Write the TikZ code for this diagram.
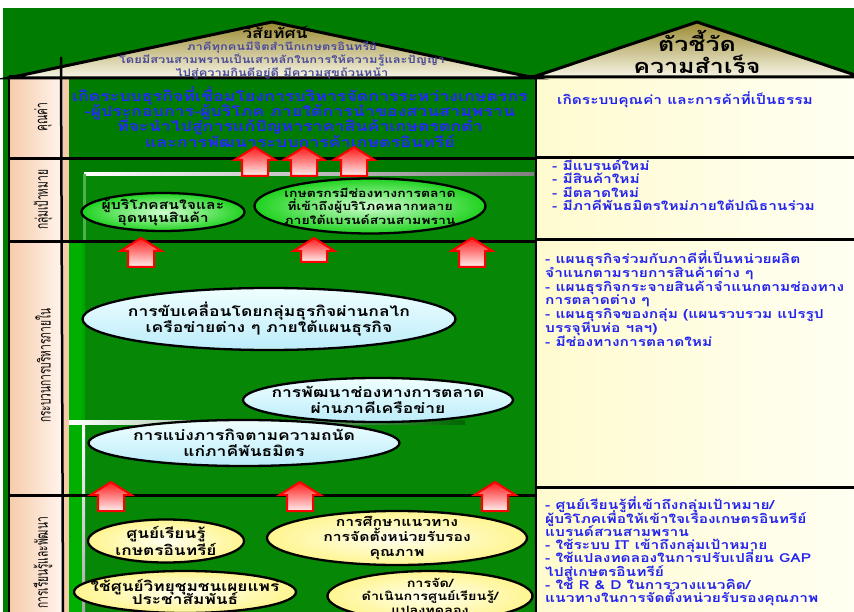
\documentclass[tikz,border=0pt]{standalone}
\usepackage{fontspec}
\newfontfamily\thai[Script=Thai,FakeStretch=1.25]{Loma}
\newfontfamily\thainar[Script=Thai,FakeStretch=0.6]{Loma}
\usetikzlibrary{shapes.geometric}
\definecolor{bggreen}{HTML}{007C00}
\definecolor{ingreen}{HTML}{068706}
\definecolor{brightgreen}{HTML}{00B000}
\definecolor{peachL}{HTML}{F7CBAA}
\definecolor{peachR}{HTML}{FFF5EE}
\definecolor{creamL}{HTML}{FFFBCF}
\definecolor{creamR}{HTML}{FFFFF2}
\definecolor{roofTop}{HTML}{9A8A30}
\definecolor{roofBot}{HTML}{F7F5E6}
\definecolor{txtblue}{HTML}{2323F0}
\definecolor{rowblue}{HTML}{2626FF}
\definecolor{visblue}{HTML}{4B4B9B}
\definecolor{arrowtop}{HTML}{FF1A1A}
\definecolor{arrowbot}{HTML}{FFF0F0}
\definecolor{ellgreenin}{HTML}{D0FFD0}
\definecolor{ellgreenout}{HTML}{1ED21E}
\definecolor{ellbluetop}{HTML}{F0FFFF}
\definecolor{ellbluebot}{HTML}{BCECFA}
\definecolor{ellyelin}{HTML}{FFFFF0}
\definecolor{ellyelout}{HTML}{FFF590}
\newcommand{\tightlines}{\lineskiplimit=-30pt\lineskip=0pt}
\newcommand{\redup}[3]{\path[uparrow] ({#1-20.5},{#2+13}) -- (#1,#2) -- ({#1+20.5},{#2+13}) -- ({#1+13},{#2+13}) -- ({#1+13},#3) -- ({#1-13},#3) -- ({#1-13},{#2+13}) -- cycle;}
\begin{document}
\begin{tikzpicture}[x=1pt,y=-1pt,
  rowline/.style={line width=3pt,draw=black},
  uparrow/.style={draw=red,line width=2pt,top color=arrowtop,bottom color=arrowbot,line join=miter},
  ellbox/.style={ellipse,draw=black,line width=2.3pt,inner sep=0pt},
  greenell/.style={ellbox,inner color=ellgreenin,outer color=ellgreenout},
  blueell/.style={ellbox,top color=ellbluetop,bottom color=ellbluebot},
  yellowell/.style={ellbox,inner color=ellyelin,outer color=ellyelout},
  etext/.style={font=\fontsize{14}{15.8}\selectfont\thai\bfseries\tightlines,align=center,text=black,inner sep=0pt},
  rtext/.style={font=\fontsize{12.4}{13.4}\selectfont\thai\bfseries\tightlines,align=left,text=txtblue,anchor=west,inner sep=0pt},
  lab/.style={font=\fontsize{17}{17}\selectfont\thainar,rotate=90,inner sep=0pt}
]
\useasboundingbox (0,0) rectangle (854,612);
\clip (0,0) rectangle (854,612);
% background
\fill[white] (0,0) rectangle (854,612);
\fill[bggreen] (3,8) rectangle (854,612);
% inner panels
\fill[ingreen] (84,174) rectangle (534,612);
\fill[brightgreen] (69,242) rectangle (84,612);
\shade[left color=white,right color=gray] (84,172.5) rectangle (534,175.5);
\fill[gray!60!green] (83,174) rectangle (86,242);
\fill[black!35!green] (82,242) rectangle (85,421);
\shade[left color=white,right color=black!60!green] (69,420.5) rectangle (465,424);
\shade[top color=white,bottom color=gray!70] (82,424) rectangle (85,612);
% label column
\foreach \a/\b in {76/159,159/242,242/495,495/612}{
  \shade[left color=peachL,right color=peachR] (9,\a) rectangle (63,\b);
  \fill[peachL] (63,\a) rectangle (69,\b);
}
% right panel
\shade[left color=creamL,right color=creamR] (536,76) rectangle (854,612);
% lines
\draw[line width=2pt] (9,76) -- (9,612);
\draw[line width=2.5pt] (536,76) -- (536,612);
\foreach \y in {159,242,495}{\draw[rowline] (9,\y) -- (536,\y);}
\foreach \y in {158,240,487}{\draw[rowline] (536,\y) -- (854,\y);}
\draw[rowline] (9,77) -- (854,77);
% roofs
\draw[line width=3pt,top color=roofTop,bottom color=roofBot,line join=miter] (8.5,78) -- (272,22) -- (535,78) -- cycle;
\draw[line width=3pt,top color=roofTop,bottom color=roofBot,line join=miter] (533,77) -- (697,22) -- (861,77) -- cycle;
\draw[line width=2.5pt] (61,57) -- (63,612);
% roof texts
\node[font=\fontsize{14}{15}\selectfont\thai\bfseries,inner sep=0pt] (vt) at (275,32) {วิสัยทัศน์};
\node[font=\fontsize{10.3}{13}\selectfont\thai\bfseries\tightlines,text=visblue,align=center,inner sep=0pt] (vl) at (282,60) {ภาคีทุกคนมีจิตสำนึกเกษตรอินทรีย์\\โดยมีสวนสามพรานเป็นเสาหลักในการให้ความรู้และปัญญา\\ไปสู่ความกินดีอยู่ดี มีความสุขถ้วนหน้า};
\node[font=\fontsize{20}{22}\selectfont\thai\bfseries\tightlines,align=center,inner sep=0pt] (kt) at (697,52) {ตัวชี้วัด\\ความสำเร็จ};
% row labels
\node[lab] (l1) at (43,117) {คุณค่า};
\node[lab] (l2) at (43,200) {กลุ่มเป้าหมาย};
\node[lab] (l3) at (43,366) {กระบวนการบริหารภายใน};
\node[lab] (l4) at (43,563) {การเรียนรู้และพัฒนา};
% row 1 content
\node[font=\fontsize{14.2}{15.4}\selectfont\thai\bfseries\tightlines,text=rowblue,align=center,inner sep=0pt] (v1) at (300,117) {เกิดระบบธุรกิจที่เชื่อมโยงการบริหารจัดการระหว่างเกษตรกร\\-ผู้ประกอบการ-ผู้บริโภค ภายใต้การนำของสวนสามพราน\\ที่จะนำไปสู่การแก้ปัญหาราคาสินค้าเกษตรตกต่ำ\\และการพัฒนาระบบการค้าเกษตรอินทรีย์};
% arrows
\redup{255}{147}{176}
\redup{304}{147}{176}
\redup{354}{147}{176}
\redup{141}{238}{267}
\redup{314}{238}{262}
\redup{472}{238}{267}
\redup{111}{482}{511}
\redup{300}{482}{511}
\redup{495}{482}{511}
% row 2 ellipses
\node[greenell,minimum width=163pt,minimum height=38pt] (e1) at (163,212) {};
\node[etext,font=\fontsize{12.6}{13}\selectfont\thai\bfseries\tightlines] (t1) at (e1.center) {ผู้บริโภคสนใจและ\\อุดหนุนสินค้า};
\node[greenell,minimum width=231pt,minimum height=55pt] (e2) at (370,206) {};
\node[etext,font=\fontsize{11.2}{13.5}\selectfont\thai\bfseries\tightlines] (t2) at (e2.center) {เกษตรกรมีช่องทางการตลาด\\ที่เข้าถึงผู้บริโภคหลากหลาย\\ภายใต้แบรนด์สวนสามพราน};
% row 3 ellipses
\node[blueell,minimum width=373pt,minimum height=62pt] (e3) at (269,319) {};
\node[etext] (t3) at (e3.center) {การขับเคลื่อนโดยกลุ่มธุรกิจผ่านกลไก\\เครือข่ายต่าง ๆ ภายใต้แผนธุรกิจ};
\node[blueell,minimum width=270pt,minimum height=44pt] (e4) at (378,400) {};
\node[etext] (t4) at (e4.center) {การพัฒนาช่องทางการตลาด\\ผ่านภาคีเครือข่าย};
\node[blueell,minimum width=311pt,minimum height=46pt] (e5) at (244,443) {};
\node[etext] (t5) at (e5.center) {การแบ่งภารกิจตามความถนัด\\แก่ภาคีพันธมิตร};
% row 4 ellipses
\node[yellowell,minimum width=156pt,minimum height=43pt] (e6) at (166,541) {};
\node[etext,font=\fontsize{13.8}{17}\selectfont\thai\bfseries\tightlines] (t6) at (e6.center) {ศูนย์เรียนรู้\\เกษตรอินทรีย์};
\node[yellowell,minimum width=260pt,minimum height=54pt] (e7) at (397,538) {};
\node[etext,font=\fontsize{12.6}{14.8}\selectfont\thai\bfseries\tightlines] (t7) at (e7.center) {การศึกษาแนวทาง\\การจัดตั้งหน่วยรับรอง\\คุณภาพ};
\node[yellowell,minimum width=222pt,minimum height=42pt] (e8) at (185,592) {};
\node[etext,font=\fontsize{13.8}{13}\selectfont\thai\bfseries\tightlines] (t8) at (e8.center) {ใช้ศูนย์วิทยุชุมชนเผยแพร่\\ประชาสัมพันธ์};
\node[yellowell,minimum width=205pt,minimum height=50pt] (e9) at (430,596) {};
\node[etext,font=\fontsize{11.5}{13.5}\selectfont\thai\bfseries\tightlines] (t9) at (e9.center) {การจัด/\\ดำเนินการศูนย์เรียนรู้/\\แปลงทดลอง};
% right panel texts
\node[rtext] (r1) at (557,100) {เกิดระบบคุณค่า และการค้าที่เป็นธรรม};
\node[rtext] (r2) at (552,185) {- มีแบรนด์ใหม่\\- มีสินค้าใหม่\\- มีตลาดใหม่\\- มีภาคีพันธมิตรใหม่ภายใต้ปณิธานร่วม};
\node[rtext,font=\fontsize{12.4}{13.8}\selectfont\thai\bfseries\tightlines] (r3) at (545,298.5) {- แผนธุรกิจร่วมกับภาคีที่เป็นหน่วยผลิต\\จำแนกตามรายการสินค้าต่าง ๆ\\- แผนธุรกิจกระจายสินค้าจำแนกตามช่องทาง\\การตลาดต่าง ๆ\\- แผนธุรกิจของกลุ่ม (แผนรวบรวม แปรรูป\\บรรจุหีบห่อ ฯลฯ)\\- มีช่องทางการตลาดใหม่};
\node[rtext,font=\fontsize{12.4}{13.3}\selectfont\thai\bfseries\tightlines] (r4) at (545,551.5) {- ศูนย์เรียนรู้ที่เข้าถึงกลุ่มเป้าหมาย/\\ผู้บริโภคเพื่อให้เข้าใจเรื่องเกษตรอินทรีย์\\แบรนด์สวนสามพราน\\- ใช้ระบบ IT เข้าถึงกลุ่มเป้าหมาย\\- ใช้แปลงทดลองในการปรับเปลี่ยน GAP\\ไปสู่เกษตรอินทรีย์\\- ใช้ R \& D ในการวางแนวคิด/\\แนวทางในการจัดตั้งหน่วยรับรองคุณภาพ};
\end{tikzpicture}
\end{document}
